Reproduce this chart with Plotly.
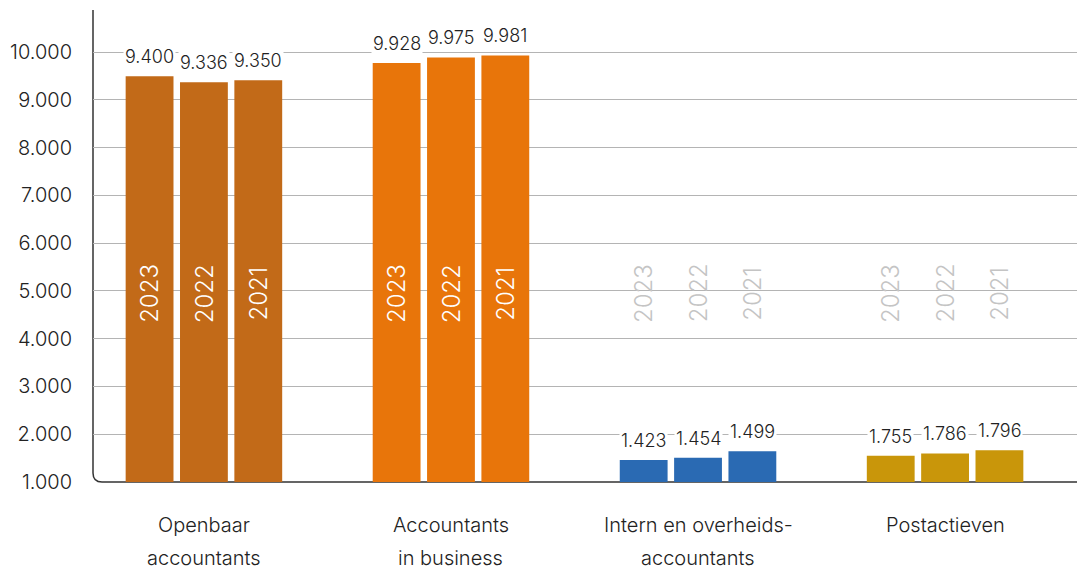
import plotly.graph_objects as go

# ---- data ----
category_lines = [["Openbaar", "accountants"],
                  ["Accountants", "in business"],
                  ["Intern en overheids-", "accountants"],
                  ["Postactieven", ""]]
years = ["2023", "2022", "2021"]
bar_heights = {
    "2023": [9495, 9770, 1458, 1548],
    "2022": [9370, 9887, 1506, 1597],
    "2021": [9412, 9929, 1646, 1667],
}
value_labels = {
    "2023": ["9.400", "9.928", "1.423", "1.755"],
    "2022": ["9.336", "9.975", "1.454", "1.786"],
    "2021": ["9.350", "9.981", "1.499", "1.796"],
}
category_colors = ["#C26A18", "#E8750A", "#2A6AB3", "#C9960A"]
year_label_colors = ["#FFFFFF", "#FFFFFF", "#C4C4C4", "#C4C4C4"]
y_ticks = [1000, 2000, 3000, 4000, 5000, 6000, 7000, 8000, 9000, 10000]
year_label_y = 4950

FONT = "Inter, Roboto, sans-serif"
x_idx = list(range(len(category_lines)))
BARGAP = 0.34
slot = (1 - BARGAP) / len(years)
offsets = [(-1 + i) * slot for i in range(len(years))]

fig = go.Figure()
for yr in years:
    fig.add_trace(go.Bar(
        x=x_idx, y=bar_heights[yr], name=yr,
        marker=dict(color=category_colors, line=dict(width=0)),
        hoverinfo="skip",
    ))

annotations = []
for j, yr in enumerate(years):
    for i in x_idx:
        xc = i + offsets[j]
        annotations.append(dict(
            x=xc, y=bar_heights[yr][i], xref="x", yref="y",
            text=value_labels[yr][i], showarrow=False,
            yanchor="bottom", yshift=7, bgcolor="white", borderpad=1,
            font=dict(family=FONT, size=18, color="#222222", weight=300)))
        annotations.append(dict(
            x=xc, y=year_label_y, xref="x", yref="y",
            text=yr, showarrow=False, textangle=-90,
            font=dict(family=FONT, size=24, color=year_label_colors[i], weight=300)))

for i, lines in enumerate(category_lines):
    for k, line in enumerate(lines):
        if not line:
            continue
        annotations.append(dict(
            x=i, y=0, xref="x", yref="paper", text=line, showarrow=False,
            yanchor="middle", yshift=-43 - 33 * k,
            font=dict(family=FONT, size=20, color="#222222", weight=300)))

# axis lines with rounded corner (paper coordinates)
W, H = 1077 - 93, 572 - 10 - 90
rx, ry = 9 / W, 9 / H
path = f"M 0,1 L 0,{ry} Q 0,0 {rx},0 L 1,0"
fig.add_shape(type="path", path=path, xref="paper", yref="paper",
              line=dict(color="#333333", width=1.5), layer="between")

fig.update_layout(
    width=1077, height=572,
    margin=dict(l=93, r=0, t=10, b=90),
    barmode="group", bargap=BARGAP, bargroupgap=0.12,
    plot_bgcolor="white", paper_bgcolor="white",
    showlegend=False, separators=",.",
    annotations=annotations,
    xaxis=dict(range=[-0.449, 3.534], showticklabels=False, showgrid=False,
               zeroline=False, showline=False, ticks=""),
    yaxis=dict(range=[1000, 10880], tickvals=y_ticks, tickformat=",d",
               showgrid=True, gridcolor="#B4B4B4", gridwidth=1,
               zeroline=False, showline=False, ticks="", ticklabelstandoff=20,
               tickfont=dict(family=FONT, size=20, color="#222222", weight=300)),
    font=dict(family=FONT),
)

fig.write_html("out.html", config={"displayModeBar": False},
               post_script="document.body.style.margin='0';"
                           "document.body.style.overflow='hidden';")
